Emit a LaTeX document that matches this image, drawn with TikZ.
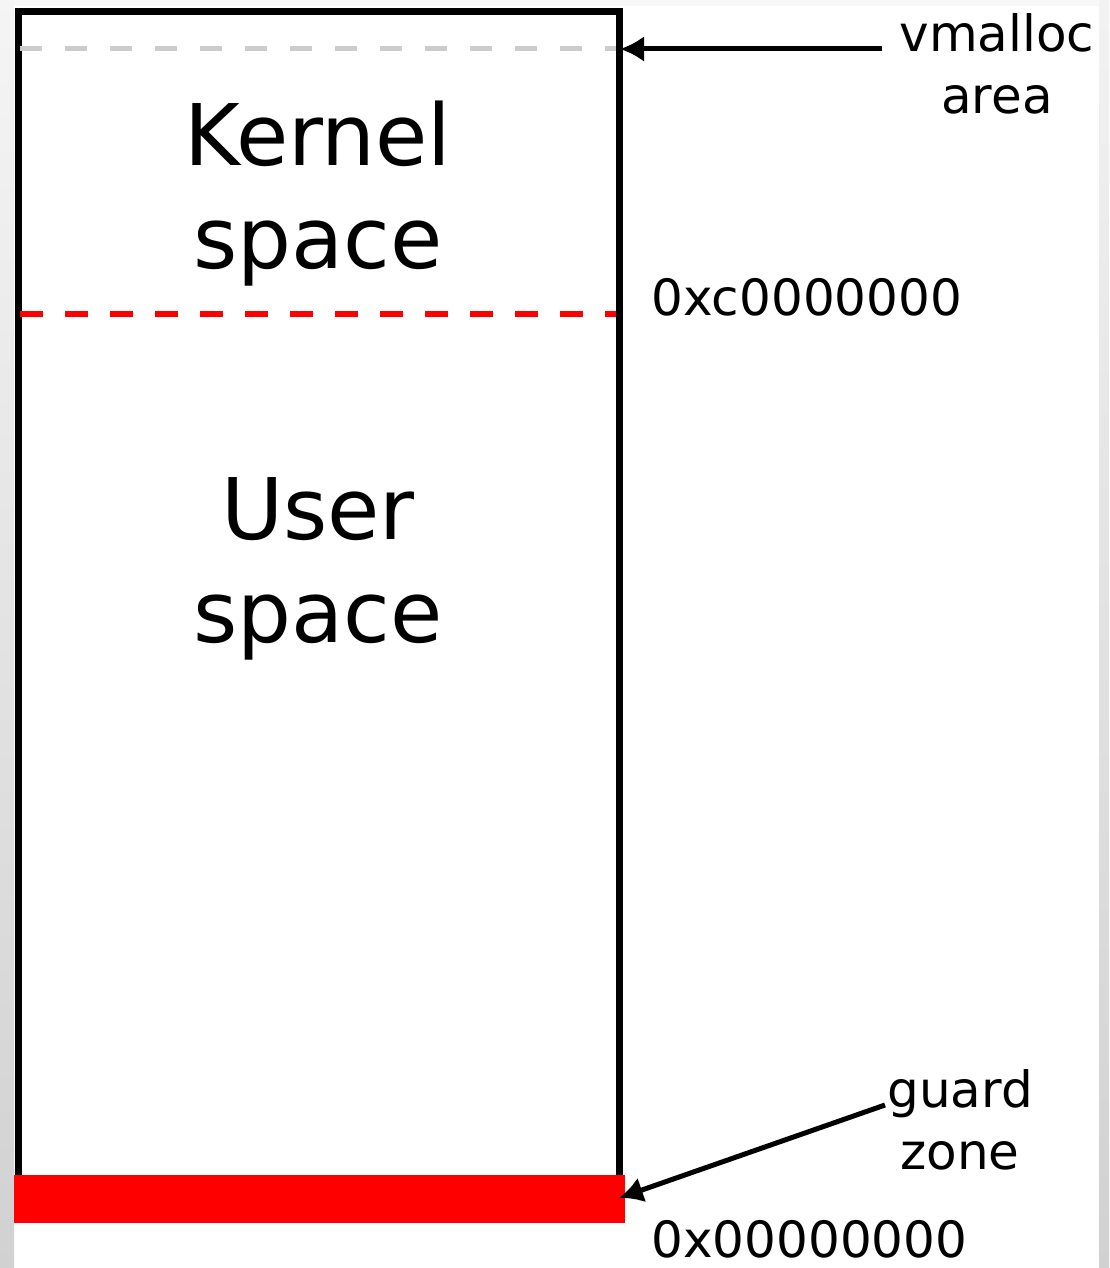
\documentclass[tikz,border=0pt]{standalone}
\usepackage{fontspec}
\setmainfont{DejaVu Sans}
\usetikzlibrary{arrows.meta}

\tikzset{
  bigtext/.style={font=\fontsize{42.5}{51.5}\selectfont, align=center},
  smalltext/.style={font=\fontsize{25}{31}\selectfont, align=center},
  pointer/.style={-{Latex[length=12pt,width=13pt]}, line width=2.5pt},
}

\begin{document}
\begin{tikzpicture}[x=0.5pt,y=-0.5pt]
\useasboundingbox (0,0) rectangle (1109,1268);

% gray frame round the picture
\shade[top color=black!4, bottom color=black!18] (0,0) rectangle (14,1268);
\shade[top color=black!5, bottom color=black!18] (1099,0) rectangle (1109,1268);
\fill[black!3] (14,0) rectangle (1099,6);

% address space
\draw[line width=3.5pt] (18,12) rectangle (619,1178);
\fill[red] (14,1175) rectangle (625,1223);

\draw[black!20, line width=2.5pt, dash pattern=on 11pt off 11.5pt] (20,49) -- (616,49);
\draw[red, line width=3pt, dash pattern=on 11.5pt off 11pt] (20,314) -- (616,314);

\node[bigtext] (kernel) at (318,194) {Kernel\\space};
\node[bigtext] (user) at (318,569) {User\\space};

%%%%%%%%%%%%%%%%%%%%%%%%%%%%%%%%%%%%%%%%%%%%
\node[smalltext] (vmalloc) at (997,64) {vmalloc\\area};
\node[smalltext] (guard) at (960,1120) {guard\\zone};
\node[smalltext, anchor=base west, inner sep=0pt] (kstart) at (651,315) {0xc0000000};
\node[smalltext, anchor=base west, inner sep=0pt] (ustart) at (651,1257) {0x00000000};

\coordinate (vmtail) at (882,49);
\coordinate (vmtip) at (620,49);
\coordinate (gztail) at (885,1105);
\coordinate (gztip) at (619,1198);

\draw[pointer] (vmtail) -- (vmtip);
\draw[pointer] (gztail) -- (gztip);

\end{tikzpicture}
\end{document}
